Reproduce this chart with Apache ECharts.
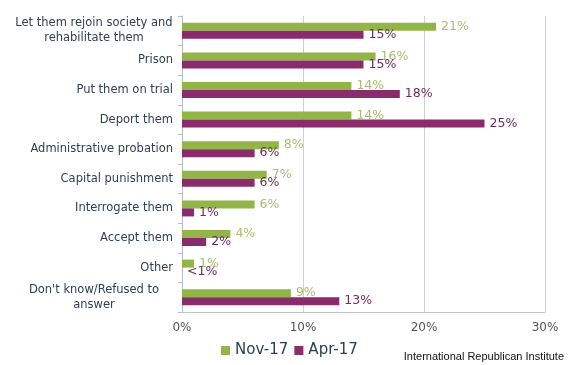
<!DOCTYPE html>
<html><head><meta charset="utf-8">
<script src="https://cdn.jsdelivr.net/npm/echarts@6/dist/echarts.min.js"></script>
<style>html,body{margin:0;padding:0;background:#fff}#c{width:570px;height:365px}</style>
</head><body><div id="c"></div>
<script>
var categories = ["Let them rejoin society and\nrehabilitate them","Prison","Put them on trial","Deport them","Administrative probation","Capital punishment","Interrogate them","Accept them","Other","Don't know/Refused to\nanswer"];
var nov17 = [21,16,14,14,8,7,6,4,1,9];
var apr17 = [15,15,18,25,6,6,1,2,0,13];
var nov17Labels = ["21%","16%","14%","14%","8%","7%","6%","4%","1%","9%"];
var apr17Labels = ["15%","15%","18%","25%","6%","6%","1%","2%","<1%","13%"];
var xTicks = [0,10,20,30];

var FONT = "DejaVu Sans";
var chart = echarts.init(document.getElementById('c'));
chart.setOption({
  animation:false,
  backgroundColor:'#fff',
  grid:{left:182,right:25,top:16,bottom:53,containLabel:false},
  legend:{
    data:['Nov-17','Apr-17'],left:216,top:338,itemWidth:9,itemHeight:9,itemGap:6,
    icon:'rect',textStyle:{fontFamily:FONT,fontSize:15,color:'#2f3e52'}
  },
  graphic:[{type:'text',right:6,top:351,style:{text:'International Republican Institute',font:'11px "Liberation Sans", Arial',fill:'#111'}}],
  xAxis:{
    type:'value',min:xTicks[0],max:xTicks[xTicks.length-1],interval:10,
    axisLine:{show:true,lineStyle:{color:'#c4c4c4'}},
    axisTick:{show:false},
    splitLine:{show:true,lineStyle:{color:'#cfcfcf'}},
    axisLabel:{formatter:'{value}%',fontFamily:FONT,fontSize:12,color:'#555',margin:10}
  },
  yAxis:{
    type:'category',data:categories,inverse:true,
    axisLine:{show:true,lineStyle:{color:'#b8bcc4'}},
    axisTick:{show:true,length:4,lineStyle:{color:'#b8bcc4'}},
    axisLabel:{
      fontFamily:FONT,fontSize:11.5,color:'#2f3e52',margin:9,
      formatter:function(v){
        if(v.indexOf('\n')>=0){
          return v.split('\n').map(function(l){return '{c|'+l+'}';}).join('\n');
        }
        return v;
      },
      rich:{c:{width:158,align:'center',fontFamily:FONT,fontSize:11.5,color:'#2f3e52',lineHeight:15}}
    }
  },
  series:[
    {name:'Nov-17',type:'bar',data:nov17,barWidth:8,barGap:'0%',barCategoryGap:'0%',
     itemStyle:{color:'#93b446'},
     label:{show:true,position:'right',distance:5,fontFamily:FONT,fontSize:12.5,color:'#a9bd72',
       formatter:function(p){return nov17Labels[p.dataIndex];}}},
    {name:'Apr-17',type:'bar',data:apr17,barWidth:8,barGap:'0%',
     itemStyle:{color:'#8a2c6c'},
     label:{show:true,position:'right',distance:5,fontFamily:FONT,fontSize:12.5,color:'#6f2c5f',
       formatter:function(p){return apr17Labels[p.dataIndex];}}}
  ]
});
</script></body></html>
